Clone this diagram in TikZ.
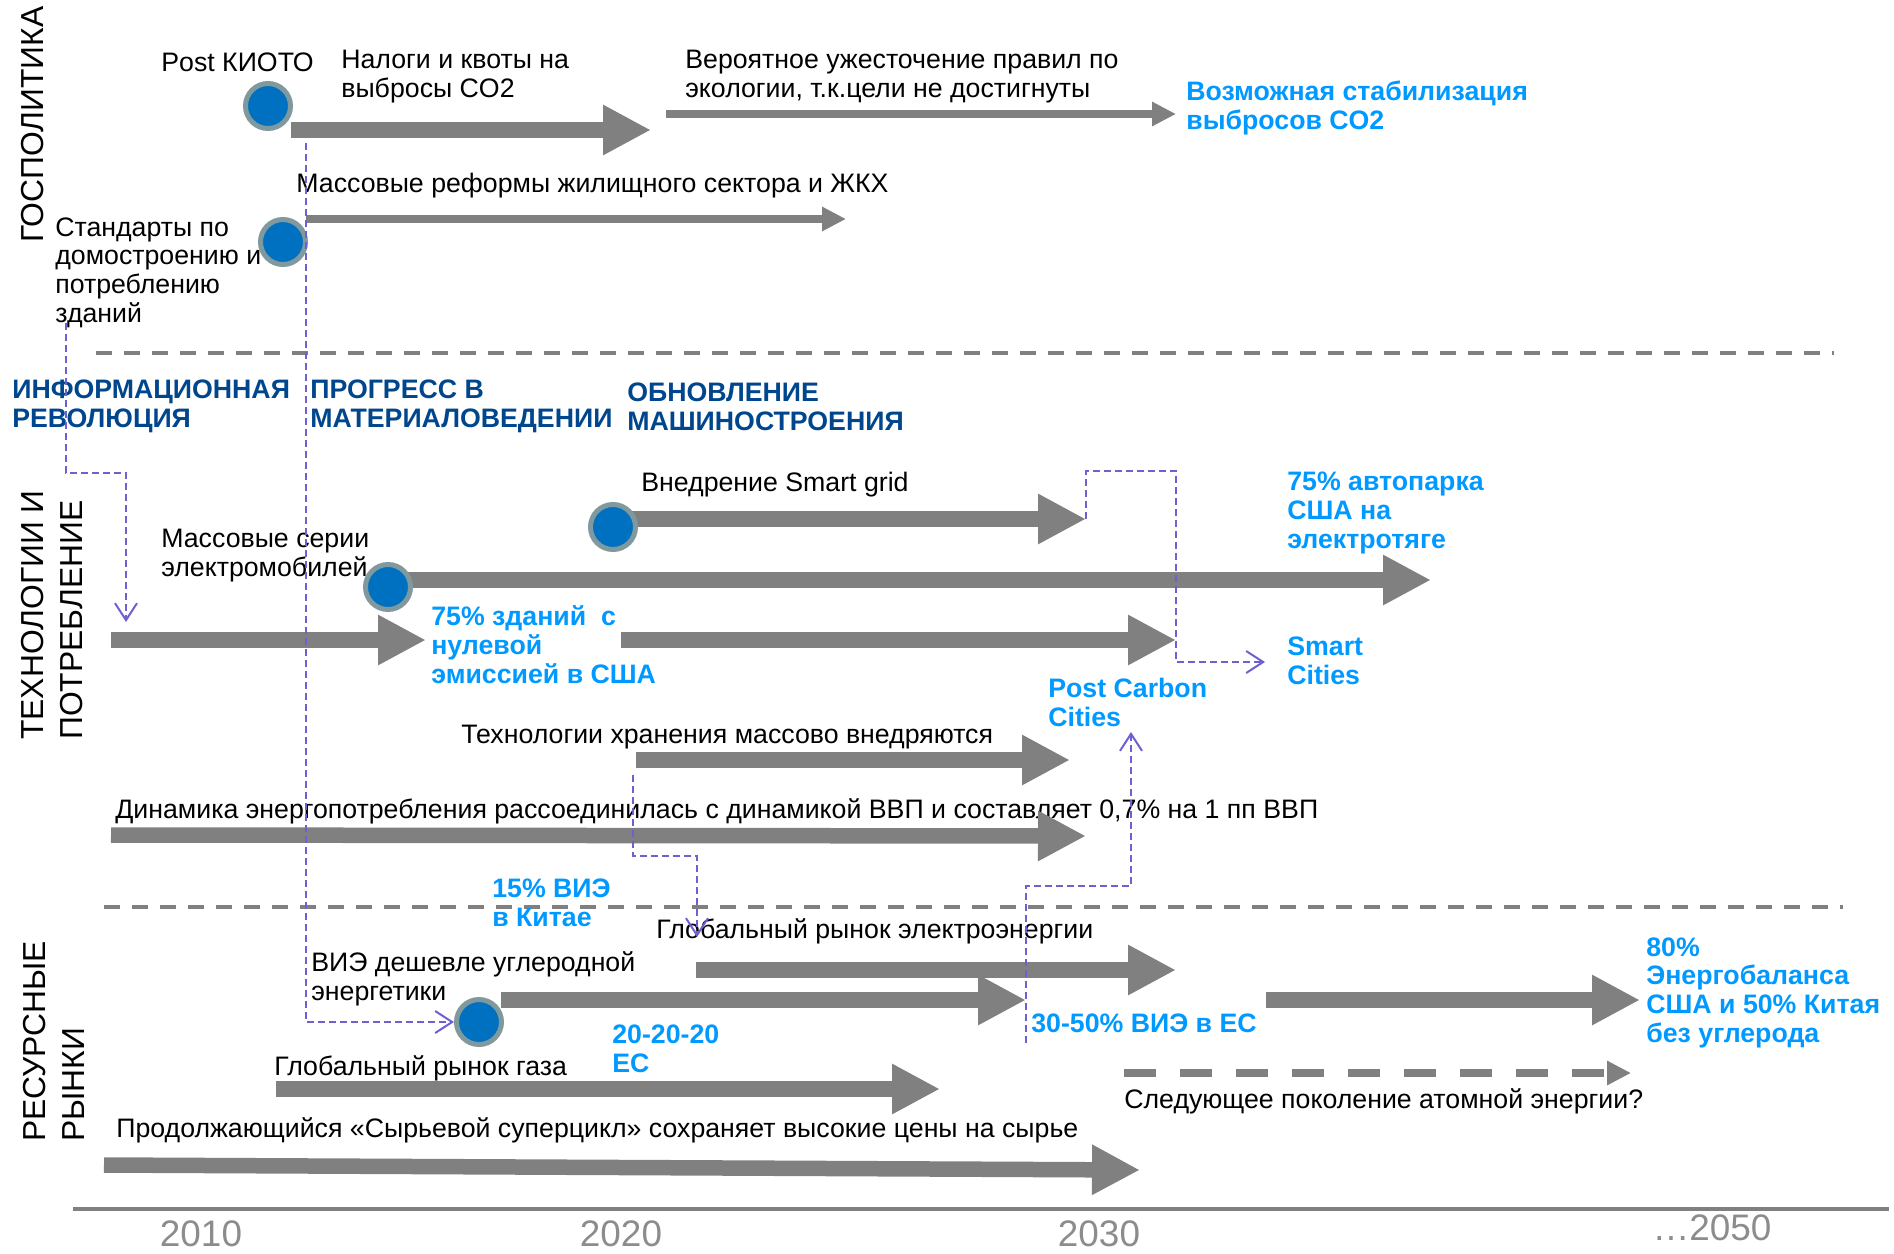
\documentclass[tikz,border=0pt]{standalone}
\usepackage{fontspec}
\setmainfont{Liberation Sans}
\usetikzlibrary{arrows.meta}
\definecolor{bargray}{RGB}{128,128,128}
\definecolor{dotblue}{RGB}{0,112,192}
\definecolor{dotring}{RGB}{127,153,158}
\definecolor{hlblue}{RGB}{0,153,255}
\definecolor{headblue}{RGB}{0,70,140}
\definecolor{linkviolet}{RGB}{110,95,210}
\definecolor{yeargray}{RGB}{140,140,140}
\begin{document}
\begin{tikzpicture}[x=0.2mm, y=-0.2mm,
    lbl/.style={anchor=base west, inner sep=0, align=left, font=\fontsize{15.2}{16.3}\selectfont},
    goal/.style={lbl, font=\fontsize{15.2}{16.3}\selectfont\bfseries, text=hlblue},
    head/.style={lbl, font=\fontsize{15.2}{16.3}\selectfont\bfseries, text=headblue},
    sect/.style={anchor=west, rotate=90, inner sep=0, align=left, font=\fontsize{18.1}{21.9}\selectfont},
    year/.style={anchor=base, inner sep=0, font=\fontsize{21}{24}\selectfont, text=yeargray},
    dot/.style={circle, fill=dotblue, draw=dotring, line width=1mm, minimum size=9mm, inner sep=0},
    fat/.style={draw=bargray, line width=3.1mm, -{Triangle[length=9.6mm,width=9.4mm]}},
    slim/.style={draw=bargray, line width=1.6mm, -{Triangle[length=4.8mm,width=4.6mm]}},
    link/.style={draw=linkviolet, line width=0.4mm, dash pattern=on 1.4mm off 0.8mm, -{Straight Barb[length=3.4mm,width=4.4mm]}},
    sep/.style={draw=bargray, line width=0.9mm, dash pattern=on 3.2mm off 2.4mm}]
  \useasboundingbox (0,0) rectangle (1894,1254);

  \node (pol) [sect] at (33,243) {ГОСПОЛИТИКА};
  \node (tech) [sect] at (52,740) {ТЕХНОЛОГИИ И\\ПОТРЕБЛЕНИЕ};
  \node (mkt) [sect] at (54,1142) {РЕСУРСНЫЕ\\РЫНКИ};

  \draw[sep] (96,353) -- (1834,353);
  \draw[sep] (104,907) -- (1843,907);
  \draw[bargray, line width=0.9mm] (73,1209) -- (1889,1209);

  \node (y10) [year] at (201,1246) {2010};
  \node (y20) [year] at (621,1246) {2020};
  \node (y30) [year] at (1099,1246) {2030};
  \node (y50) [year] at (1712,1240) {…2050};

  \node (kyoto) [lbl] at (161,71) {Post КИОТО};
  \node (tax) [lbl] at (341,97) {Налоги и квоты на\\выбросы CO2};
  \node (rules) [lbl] at (685,97) {Вероятное ужесточение правил по\\экологии, т.к.цели не достигнуты};
  \node (stab) [goal] at (1186,129) {Возможная стабилизация\\выбросов CO2};
  \node (reform) [lbl] at (296,192) {Массовые реформы жилищного сектора и ЖКХ};
  \node (std) [lbl] at (55,322) {Стандарты по\\домостроению и\\потреблению\\зданий};

  \node (info) [head] at (12,427) {ИНФОРМАЦИОННАЯ\\РЕВОЛЮЦИЯ};
  \node (mat) [head] at (310,427) {ПРОГРЕСС В\\МАТЕРИАЛОВЕДЕНИИ};
  \node (mach) [head] at (627,430) {ОБНОВЛЕНИЕ\\МАШИНОСТРОЕНИЯ};

  \node (grid) [lbl] at (641,491) {Внедрение Smart grid};
  \node (evs) [lbl] at (161,576) {Массовые серии\\электромобилей};
  \node (fleet) [goal] at (1287,548) {75\% автопарка\\США на\\электротяге};
  \node (zero) [goal] at (431,683) {75\% зданий~~с\\нулевой\\эмиссией в США};
  \node (smart) [goal] at (1287,684) {Smart\\Cities};
  \node (pcc) [goal] at (1048,726) {Post Carbon\\Cities};
  \node (store) [lbl] at (461,743) {Технологии хранения массово внедряются};
  \node (gdp) [lbl] at (115,818) {Динамика энергопотребления рассоединилась с динамикой ВВП и составляет 0,7\% на 1 пп ВВП};

  \node (china) [goal] at (492,926) {15\% ВИЭ\\в Китае};
  \node (elec) [lbl] at (656,938) {Глобальный рынок электроэнергии};
  \node (cheap) [lbl] at (311,1000) {ВИЭ дешевле углеродной\\энергетики};
  \node (eu) [goal] at (1031,1032) {30-50\% ВИЭ в ЕС};
  \node (final) [goal] at (1646,1042) {80\%\\Энергобаланса\\США и 50\% Китая\\без углерода};
  \node (gas) [lbl] at (274,1075) {Глобальный рынок газа};
  \node (e20) [goal] at (612,1072) {20-20-20\\ЕС};
  \node (nuc) [lbl] at (1124,1108) {Следующее поколение атомной энергии?};
  \node (raw) [lbl] at (116,1137) {Продолжающийся «Сырьевой суперцикл» сохраняет высокие цены на сырье};

  \draw[fat] (291,130) -- (651,130);
  \draw[slim] (666,114) -- (1176,114);
  \draw[slim] (306,219) -- (846,219);
  \draw[fat] (613,519) -- (1086,519);
  \draw[fat] (388,580) -- (1431,580);
  \draw[fat] (111,640) -- (426,640);
  \draw[fat] (621,640) -- (1176,640);
  \draw[fat] (636,760) -- (1070,760);
  \draw[fat] (111,835) -- (1086,836);
  \draw[fat] (696,970) -- (1176,970);
  \draw[fat] (501,1000) -- (1026,1000);
  \draw[fat] (1266,1000) -- (1640,1000);
  \draw[fat] (276,1089) -- (940,1089);
  \draw[slim, dash pattern=on 6.4mm off 4.8mm] (1124,1073) -- (1631,1073);
  \draw[fat] (104,1165) -- (1140,1170);

  \node (d1) [dot] at (268,106) {};
  \node (d2) [dot] at (283,242) {};
  \node (d3) [dot] at (613,527) {};
  \node (d4) [dot] at (388,587) {};
  \node (d5) [dot] at (479,1022) {};

  \draw[link] (66,323) -- (66,473) -- (126,473) -- (126,622);
  \draw[link] (306,143) -- (306,1022) -- (d5);
  \draw[link] (1086,519) -- (1086,471) -- (1176,471) -- (1176,662) -- (1265,662);
  \draw[link] (633,775) -- (633,856) -- (697,856) -- (697,937);
  \draw[link] (1026,1043) -- (1026,886) -- (1131,886) -- (1131,732);
\end{tikzpicture}
\end{document}
